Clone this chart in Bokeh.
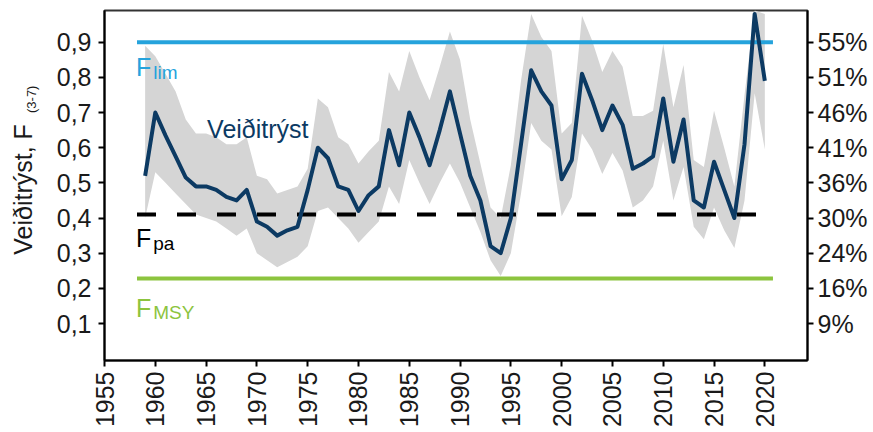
import math
from bokeh.plotting import figure
from bokeh.layouts import row
from bokeh.models import Range1d, LinearAxis, FixedTicker, Label, ColumnDataSource
from bokeh.embed import file_html
from bokeh.resources import INLINE

# ---- data ----
years = list(range(1959, 2021))
f_values = [0.52, 0.70, 0.635, 0.575, 0.515, 0.49, 0.49, 0.48, 0.46, 0.45,
            0.48, 0.39, 0.375, 0.35, 0.365, 0.375, 0.48, 0.60, 0.57, 0.49,
            0.48, 0.42, 0.465, 0.49, 0.65, 0.55, 0.70, 0.63, 0.55, 0.65,
            0.76, 0.64, 0.52, 0.45, 0.32, 0.30, 0.40, 0.61, 0.82, 0.76,
            0.72, 0.51, 0.565, 0.81, 0.735, 0.65, 0.72, 0.665, 0.54, 0.555,
            0.575, 0.74, 0.56, 0.68, 0.45, 0.43, 0.56, 0.48, 0.40, 0.61,
            0.98, 0.79]
f_upper = [0.89, 0.86, 0.81, 0.76, 0.68, 0.64, 0.64, 0.63, 0.61, 0.61,
           0.63, 0.52, 0.51, 0.47, 0.48, 0.49, 0.54, 0.74, 0.715, 0.63,
           0.61, 0.555, 0.59, 0.62, 0.815, 0.76, 0.875, 0.80, 0.735, 0.83,
           0.93, 0.85, 0.68, 0.555, 0.43, 0.40, 0.55, 0.79, 0.98, 0.915,
           0.875, 0.64, 0.67, 0.975, 0.905, 0.815, 0.875, 0.83, 0.69, 0.69,
           0.705, 0.895, 0.715, 0.835, 0.565, 0.545, 0.705, 0.60, 0.49, 0.75,
           0.99, 0.98]
f_lower = [0.40, 0.53, 0.50, 0.47, 0.44, 0.41, 0.40, 0.39, 0.37, 0.35,
           0.37, 0.30, 0.28, 0.26, 0.275, 0.29, 0.32, 0.42, 0.43, 0.40,
           0.37, 0.33, 0.36, 0.39, 0.49, 0.44, 0.565, 0.50, 0.44, 0.50,
           0.555, 0.50, 0.43, 0.36, 0.28, 0.235, 0.30, 0.47, 0.67, 0.62,
           0.595, 0.405, 0.46, 0.64, 0.595, 0.525, 0.585, 0.535, 0.43, 0.45,
           0.49, 0.62, 0.45, 0.545, 0.375, 0.34, 0.43, 0.365, 0.315, 0.45,
           0.755, 0.595]

ref_names = ["lim", "pa", "MSY"]
ref_values = [0.90, 0.41, 0.228]
ref_span = [1958.2, 2020.8]

x_ticks = [1955, 1960, 1965, 1970, 1975, 1980, 1985, 1990, 1995, 2000,
           2005, 2010, 2015, 2020]
y_ticks = [0.1, 0.2, 0.3, 0.4, 0.5, 0.6, 0.7, 0.8, 0.9]
y_tick_labels = ["0,1", "0,2", "0,3", "0,4", "0,5", "0,6", "0,7", "0,8", "0,9"]
right_tick_labels = ["9%", "16%", "24%", "30%", "36%", "41%", "46%", "51%", "55%"]
y_title = "Veiðitrýst, F"
y_title_sub = "(3-7)"

# ---- styling ----
FONT = "Liberation Sans"
NAVY = "#0c3a63"
BLUE = "#25a3dc"
GREEN = "#8cc43e"
BAND = "#d5d5d5"
TXT = "#1a1a1a"
FS = "25px"
LEFT_W = 50
TOP, BOTTOM = 10, 69

y_range = Range1d(-0.005, 0.99)

# ---- narrow strip holding the rotated y title ----
lf = figure(width=LEFT_W, height=430, x_range=Range1d(0, LEFT_W), y_range=y_range,
            output_backend="svg", toolbar_location=None,
            x_axis_location=None, y_axis_location=None,
            min_border_left=0, min_border_right=0,
            min_border_top=TOP, min_border_bottom=BOTTOM)
lf.outline_line_color = None
lf.xgrid.visible = False
lf.ygrid.visible = False
lf.text(x=[22], y=[0.2957], text=[y_title], angle=math.pi / 2,
        text_align="left", text_baseline="alphabetic", text_color=TXT,
        text_font={"value": FONT}, text_font_size={"value": FS})
lf.text(x=[31], y=[0.6986], text=[y_title_sub], angle=math.pi / 2,
        text_align="left", text_baseline="alphabetic", text_color=TXT,
        text_font={"value": FONT}, text_font_size={"value": "13px"})

# ---- main chart ----
p = figure(width=870 - LEFT_W, height=430,
           x_range=Range1d(1955, 2024.2), y_range=y_range,
           output_backend="svg", toolbar_location=None,
           min_border_left=104 - LEFT_W, min_border_right=63,
           min_border_top=TOP, min_border_bottom=BOTTOM)
p.background_fill_color = "white"
p.border_fill_color = "white"
p.outline_line_color = "#333333"
p.outline_line_width = 2
p.xgrid.visible = False
p.ygrid.visible = False

src = ColumnDataSource(dict(year=years, f=f_values, lo=f_lower, hi=f_upper))
p.varea(x="year", y1="lo", y2="hi", source=src, fill_color=BAND, fill_alpha=1.0)

# reference lines
p.line(ref_span, [ref_values[0]] * 2, line_color=BLUE, line_width=4)
p.line(ref_span, [ref_values[1]] * 2, line_color="black", line_width=4,
       line_dash="19 21")
p.line(ref_span, [ref_values[2]] * 2, line_color=GREEN, line_width=4)

p.line(x="year", y="f", source=src, line_color=NAVY, line_width=4,
       line_join="round")

# axes
def style_axis(ax):
    ax.axis_line_color = "black"
    ax.axis_line_width = 2
    ax.major_tick_line_color = "black"
    ax.major_tick_line_width = 2
    ax.major_tick_out = 6
    ax.major_tick_in = 0
    ax.minor_tick_line_color = None
    ax.major_label_text_font = FONT
    ax.major_label_text_font_size = FS
    ax.major_label_text_color = TXT

xa = p.xaxis[0]
style_axis(xa)
xa.ticker = FixedTicker(ticks=x_ticks)
xa.major_label_orientation = math.pi / 2
xa.major_label_standoff = 5

ya = p.yaxis[0]
style_axis(ya)
ya.ticker = FixedTicker(ticks=y_ticks)
ya.major_label_overrides = {t: s for t, s in zip(y_ticks, y_tick_labels)}
ya.major_label_standoff = 7

ra = LinearAxis()
style_axis(ra)
ra.ticker = FixedTicker(ticks=y_ticks)
ra.major_label_overrides = {t: s for t, s in zip(y_ticks, right_tick_labels)}
ra.major_label_standoff = 4
p.add_layout(ra, "right")

def lab(x, y, text, color, size):
    p.add_layout(Label(x=x, y=y, text=text, text_color=color,
                       text_font=FONT, text_font_size=size,
                       text_baseline="alphabetic", text_align="left"))

# reference point labels
lab(1958.1, 0.830, "F", BLUE, FS)
lab(1959.8, 0.813, ref_names[0], BLUE, "19px")
lab(1958.1, 0.343, "F", "black", FS)
lab(1959.8, 0.329, ref_names[1], "black", "19px")
lab(1958.1, 0.1445, "F", GREEN, FS)
lab(1959.8, 0.132, ref_names[2], GREEN, "19px")

# series label
lab(1965.1, 0.652, "Veiðitrýst", NAVY, FS)

layout = row(lf, p, spacing=0)
open("out.html", "w").write(file_html(layout, INLINE))
